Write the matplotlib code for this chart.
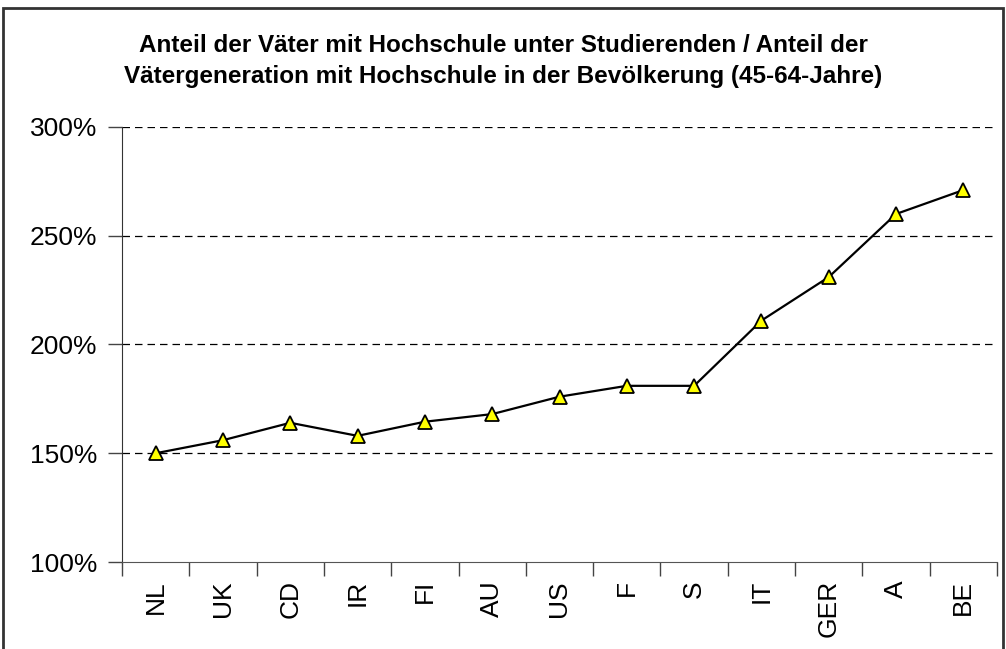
import matplotlib
matplotlib.use("Agg")
import matplotlib.pyplot as plt
from matplotlib.ticker import FuncFormatter
from matplotlib.patches import Rectangle

categories = ["NL", "UK", "CD", "IR", "FI", "AU", "US", "F", "S", "IT", "GER", "A", "BE"]
values = [150, 156, 164, 158, 164.5, 168, 176, 181, 181, 211, 231, 260, 271]
yticks = [100, 150, 200, 250, 300]
title = ("Anteil der Väter mit Hochschule unter Studierenden / Anteil der\n"
         "Vätergeneration mit Hochschule in der Bevölkerung (45-64-Jahre)")

plt.rcParams['font.family'] = ['Liberation Sans', 'DejaVu Sans']

fig = plt.figure(figsize=(10.06, 6.49), dpi=100)
ax = fig.add_axes([122/1006, 1-562/649, (997-122)/1006, (562-127)/649])

x = list(range(len(categories)))
ax.plot(x, values, color='black', lw=1.6, marker='^', markersize=10,
        markerfacecolor='#FFFF00', markeredgecolor='black', markeredgewidth=1.3,
        zorder=3)

ax.set_xlim(-0.5, len(categories) - 0.5)
ax.set_ylim(100, 300)
ax.set_yticks(yticks)
ax.yaxis.set_major_formatter(FuncFormatter(lambda v, p: f"{int(v)}%"))
for y in yticks[1:]:
    ax.axhline(y, color='black', lw=0.9, dashes=(6, 4), zorder=1)

ax.set_xticks([i - 0.5 for i in range(len(categories) + 1)])
ax.set_xticklabels([])
ax.set_xticks(x, minor=True)
ax.set_xticklabels(categories, minor=True, rotation=90, fontsize=19)
ax.tick_params(axis='x', which='minor', length=0, pad=13)
ax.tick_params(axis='x', which='major', length=10, width=1, color='#444444', direction='out')
ax.tick_params(axis='y', length=10, width=1, labelsize=19, direction='out', pad=8, color='#444444')

for s in ['top', 'right']:
    ax.spines[s].set_visible(False)
ax.spines['left'].set_color('#333333')
ax.spines['bottom'].set_color('#555555')

fig.text(0.5, 1-61/649, title, ha='center', va='center', fontsize=17.5,
         fontweight='bold', linespacing=1.45)

fig.patches.append(Rectangle((3/1006, -0.05), 1000/1006, 1.05 - 8/649,
                             transform=fig.transFigure, fill=False,
                             edgecolor='#333333', lw=2))

fig.savefig("out.png", dpi=100)
